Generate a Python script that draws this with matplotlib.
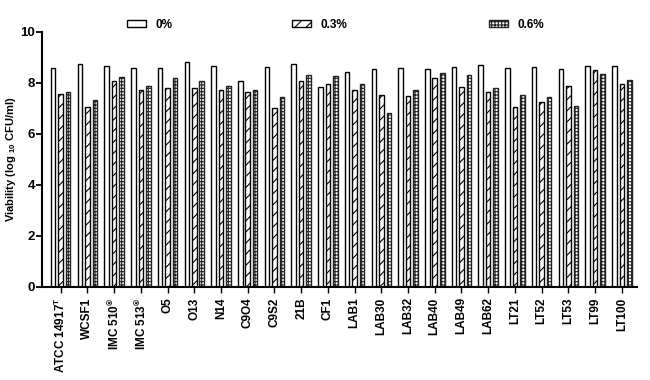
import numpy as np
import matplotlib
matplotlib.use('Agg')
import matplotlib.pyplot as plt

plt.rcParams['font.family'] = ['Liberation Sans', 'DejaVu Sans']
plt.rcParams['font.weight'] = 'bold'
plt.rcParams['mathtext.fontset'] = 'custom'
plt.rcParams['mathtext.rm'] = 'Liberation Sans:bold'
plt.rcParams['mathtext.default'] = 'rm'
plt.rcParams['hatch.linewidth'] = 0.8

# Stämme
strains = [r'ATCC 14917$^{\mathrm{T}}$', 'WCSF1', r'IMC 510$^{®}$', r'IMC 513$^{®}$',
           'O5', 'O13', 'N14', 'C9O4', 'C9S2', '21B', 'CF1', 'LAB1', 'LAB30',
           'LAB32', 'LAB40', 'LAB49', 'LAB62', 'LT21', 'LT52', 'LT53', 'LT99', 'LT100']

# Viabilität (log10 CFU/ml)
v0 = [8.56, 8.74, 8.64, 8.59, 8.59, 8.80, 8.64, 8.06, 8.61, 8.74, 7.82,
      8.43, 8.53, 8.59, 8.53, 8.61, 8.69, 8.56, 8.61, 8.53, 8.65, 8.64]
v03 = [7.54, 7.04, 8.08, 7.70, 7.78, 7.78, 7.70, 7.63, 7.02, 8.06, 7.93,
       7.72, 7.51, 7.46, 8.17, 7.83, 7.65, 7.04, 7.25, 7.85, 8.51, 7.94]
v06 = [7.65, 7.33, 8.22, 7.87, 8.17, 8.08, 7.86, 7.72, 7.44, 8.30, 8.27,
       7.96, 6.81, 7.72, 8.38, 8.30, 7.78, 7.52, 7.44, 7.08, 8.33, 8.10]

x = np.arange(len(strains))
w = 0.17
d = 0.28

fig = plt.figure(figsize=(6.5, 3.8), dpi=100)
ax = fig.add_axes([0.0646, 0.245, 0.915, 0.672])

b1 = ax.bar(x - d, v0, w, color='white', edgecolor='black', linewidth=1.0, label='0%')
b2 = ax.bar(x, v03, w, color='white', edgecolor='black', linewidth=1.0, hatch='///', label='0.3%')
b3 = ax.bar(x + d, v06, w, color='white', edgecolor='#222222', linewidth=1.0, hatch='+++++', label='0.6%')

ax.set_xlim(-0.70, 21.56)
ax.set_ylim(0, 10)
ax.set_yticks([0, 2, 4, 6, 8, 10])
ax.set_xticks(x)
ax.set_xticklabels(strains, rotation=90, fontsize=8.5, fontweight='bold')
ax.tick_params(axis='y', labelsize=9.5, width=1.3, length=4, pad=1)
ax.tick_params(axis='x', width=1.0, length=4)
for lab in ax.get_yticklabels():
    lab.set_fontweight('bold')
ax.set_ylabel(r'Viability (log $_{10}$ CFU/ml)', fontsize=8, fontweight='bold')
ax.yaxis.set_label_coords(-0.040, 0.5)

ax.spines['top'].set_visible(False)
ax.spines['right'].set_visible(False)
ax.spines['left'].set_linewidth(1.5)
ax.spines['bottom'].set_linewidth(1.5)

# Legende: drei einzelne Einträge
for h, xpos in zip([b1, b2, b3], [127, 292, 489]):
    fig.legend(handles=[h], loc='center left', bbox_to_anchor=(xpos / 650, 1 - 24.5 / 380),
               frameon=False, fontsize=8.5, handlelength=1.6, handleheight=0.6,
               handletextpad=0.8, borderpad=0, borderaxespad=0)

fig.savefig('out.png', dpi=100)
